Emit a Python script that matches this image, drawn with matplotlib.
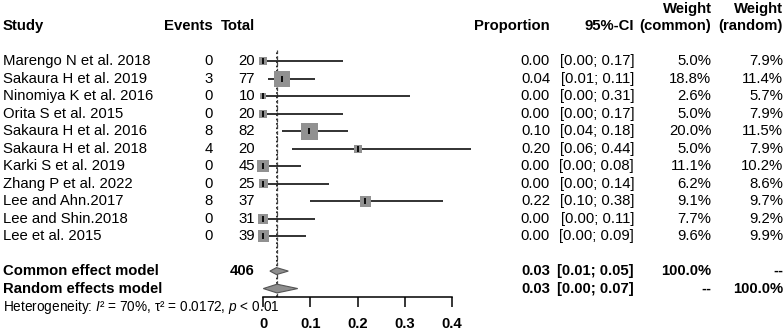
import numpy as np
import matplotlib
matplotlib.use('Agg')
import matplotlib.pyplot as plt
import matplotlib.transforms as mtransforms


# Study level data
studies = ['Marengo N et al. 2018', 'Sakaura H et al. 2019', 'Ninomiya K et al. 2016',
           'Orita S et al. 2015', 'Sakaura H et al. 2016', 'Sakaura H et al. 2018',
           'Karki S et al. 2019', 'Zhang P et al. 2022', 'Lee and Ahn.2017',
           'Lee and Shin.2018', 'Lee et al. 2015']
events = [0, 3, 0, 0, 8, 4, 0, 0, 8, 0, 0]
totals = [20, 77, 10, 20, 82, 20, 45, 25, 37, 31, 39]
ci_low = [0.00, 0.01, 0.00, 0.00, 0.04, 0.06, 0.00, 0.00, 0.10, 0.00, 0.00]
ci_high = [0.17, 0.11, 0.31, 0.17, 0.18, 0.44, 0.08, 0.14, 0.38, 0.11, 0.09]
w_common = [5.0, 18.8, 2.6, 5.0, 20.0, 5.0, 11.1, 6.2, 9.1, 7.7, 9.6]
w_random = [7.9, 11.4, 5.7, 7.9, 11.5, 7.9, 10.2, 8.6, 9.7, 9.2, 9.9]

# Pooled estimates (estimate, lower, upper)
common_model = [0.028, 0.014, 0.053]
random_model = [0.029, 0.000, 0.073]
heterogeneity = 'Heterogeneity: $I$² = 70%, τ² = 0.0172, $p$ < 0.01'

xticks = [0, 0.1, 0.2, 0.3, 0.4]
xtick_labels = ['0', '0.1', '0.2', '0.3', '0.4']

plt.rcParams['font.family'] = ['Liberation Sans', 'DejaVu Sans']
plt.rcParams['mathtext.fontset'] = 'custom'
plt.rcParams['mathtext.rm'] = 'Liberation Sans'
plt.rcParams['mathtext.it'] = 'Liberation Sans:italic'
plt.rcParams['font.size'] = 10.7

W, H = 784, 331


def px(x):
	# pixel column -> figure fraction
	return x / W


def main():
	fig = plt.figure(figsize=(W / 100, H / 100), dpi=100)

	# forest panel, rows counted from the top
	top_px, bottom_px = 50, 297.3
	ax = fig.add_axes([px(263.3), 1 - bottom_px / H, px(452 - 263.3), (bottom_px - top_px) / H])
	ax.set_xlim(0, 0.4)
	ax.set_ylim(13.5, -0.65)

	rows = np.arange(len(studies))
	prop = np.array(events) / np.array(totals)

	# reference lines for common (dotted) and random (dashed) estimate
	ax.axvline(common_model[0], color='k', ls=':', lw=1.2)
	ax.axvline(random_model[0], color='#444444', ls=(0, (3, 2)), lw=0.9)

	# confidence intervals
	ax.hlines(rows, ci_low, ci_high, color='#222222', lw=1.3, clip_on=False, zorder=2)

	# squares sized by common weight
	side = 37 * np.sqrt(np.array(w_common) / 100) * 0.72
	ax.scatter(prop, rows, s=side ** 2, marker='s', color='#919191', lw=0,
	           clip_on=False, zorder=3)
	ax.plot(prop, rows, '|', color='k', ms=4.5, mew=1.3, clip_on=False, zorder=4)

	# diamonds for pooled models
	for (est, lo, hi), y, h in [(common_model, 12, 0.2), (random_model, 13, 0.25)]:
		ax.fill([lo, est, hi, est], [y, y - h, y, y + h], facecolor='#8e8e8e',
		        edgecolor='#555555', lw=0.8, clip_on=False, zorder=3)

	# axis styling
	for s in ['top', 'right', 'left']:
		ax.spines[s].set_visible(False)
	ax.spines['bottom'].set_bounds(0, 0.4)
	ax.spines['bottom'].set_linewidth(1.1)
	ax.set_yticks([])
	ax.set_xticks(xticks)
	ax.set_xticklabels(xtick_labels, fontweight='bold')
	ax.tick_params(axis='x', direction='out', length=7, width=1.1, pad=7)
	ax.patch.set_alpha(0)

	# text columns: x in figure pixels, y in row units
	trans = mtransforms.blended_transform_factory(fig.transFigure, ax.transData)

	def txt(x, y, s, ha='right', bold=False, size=None):
		fig.text(px(x), y, s, transform=trans, ha=ha, va='center',
		         fontweight='bold' if bold else 'normal', fontsize=size)

	# headers
	txt(3, -2, 'Study', ha='left', bold=True)
	txt(213, -2, 'Events', bold=True)
	txt(255, -2, 'Total', bold=True)
	txt(550, -2, 'Proportion', bold=True)
	txt(634, -2, '95%-CI', bold=True)
	txt(711.5, -3, 'Weight', bold=True)
	txt(711.5, -2, '(common)', bold=True)
	txt(783, -3, 'Weight', bold=True)
	txt(783, -2, '(random)', bold=True)

	# study rows
	for i in range(len(studies)):
		txt(3, i, studies[i], ha='left')
		txt(213, i, str(events[i]))
		txt(255, i, str(totals[i]))
		txt(550, i, '%.2f' % prop[i])
		txt(634, i, '[%.2f; %.2f]' % (ci_low[i], ci_high[i]))
		txt(711.5, i, '%.1f%%' % w_common[i])
		txt(783, i, '%.1f%%' % w_random[i])

	# pooled rows
	txt(3, 12, 'Common effect model', ha='left', bold=True)
	txt(255, 12, str(sum(totals)), bold=True)
	txt(550, 12, '%.2f' % common_model[0], bold=True)
	txt(634, 12, '[%.2f; %.2f]' % (common_model[1], common_model[2]), bold=True)
	txt(711.5, 12, '100.0%', bold=True)
	txt(783, 12, '--', bold=True)

	txt(3, 13, 'Random effects model', ha='left', bold=True)
	txt(550, 13, '%.2f' % random_model[0], bold=True)
	txt(634, 13, '[%.2f; %.2f]' % (random_model[1], random_model[2]), bold=True)
	txt(711.5, 13, '--', bold=True)
	txt(783, 13, '100.0%', bold=True)

	txt(3, 14.05, heterogeneity, ha='left', size=9.8)

	fig.savefig('out.png', dpi=100)


if __name__ == '__main__':
	main()
